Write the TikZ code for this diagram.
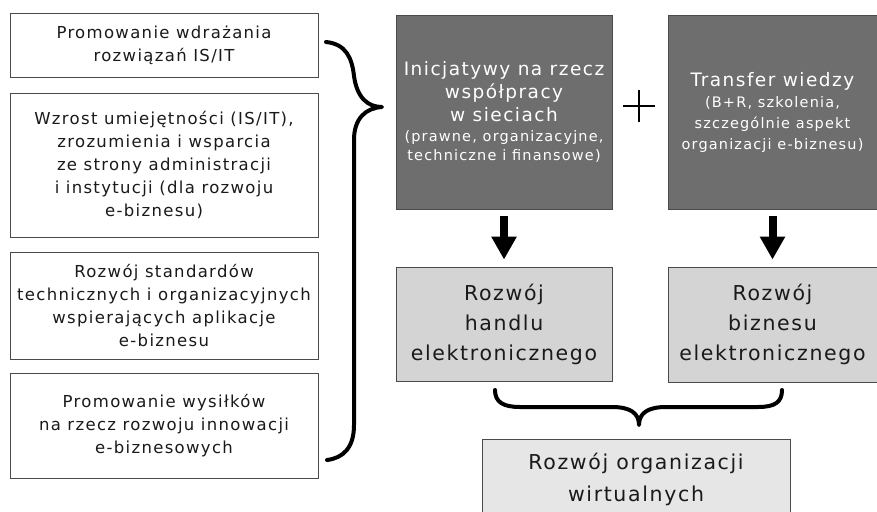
\documentclass[tikz,border=0pt]{standalone}
\usepackage{fontspec}
\setmainfont{DejaVu Sans}[LetterSpace=8]
\usetikzlibrary{arrows.meta}
\definecolor{darkbox}{HTML}{6E6E6E}
\definecolor{lightbox}{HTML}{D4D4D4}
\definecolor{palebox}{HTML}{E6E6E6}
\definecolor{edge}{HTML}{4A4A4A}
\definecolor{ink}{HTML}{1A1A1A}
\newcommand{\bigline}{\fontsize{18.5}{23}\selectfont\spaceskip=0.4em\relax}
\newcommand{\smallline}[1]{\fontsize{14.5}{#1}\selectfont\spaceskip=0.4em\relax}
\begin{document}
\begin{tikzpicture}[x=1pt,y=-1pt,
  leftbox/.style={draw=edge, line width=0.9pt, fill=white, minimum width=308pt,
    align=center, inner sep=0pt, text=ink, font=\fontsize{16.5}{23}\selectfont},
  darkbox/.style={draw=edge, line width=0.9pt, fill=darkbox, minimum height=194pt,
    inner sep=0pt, text=white, align=center},
  lightbox/.style={draw=edge, line width=0.9pt, fill=lightbox, minimum height=114pt,
    inner sep=0pt, text=ink, align=center, font=\fontsize{20.5}{30}\selectfont},
  bigarrow/.style={line width=8pt, -{Triangle[width=24pt,length=23pt]},
    shorten <=7pt, shorten >=7pt},
  brace/.style={line width=4pt, line cap=round, line join=round}
]
\clip (0,0) rectangle (877,511);
\useasboundingbox (0,0) rectangle (877,511);

% left boxes
\node[leftbox, minimum height=64pt] (l1) at (164,45) {Promowanie wdrażania\\rozwiązań IS/IT};
\node[leftbox, minimum height=144pt] (l2) at (164,165) {Wzrost umiejętności (IS/IT),\\zrozumienia i wsparcia\\ze strony administracji\\i instytucji (dla rozwoju\hspace*{2.1em}\\e-biznesu)\hspace*{1.2em}};
\node[leftbox, minimum height=107pt] (l3) at (164,305.5) {Rozwój standardów\\technicznych i organizacyjnych\\wspierających aplikacje\\e-biznesu};
\node[leftbox, minimum height=105pt] (l4) at (164,425.5) {Promowanie wysiłków\\na rzecz rozwoju innowacji\\e-biznesowych};

% big brace
\coordinate (bt) at (326,42);
\coordinate (btip) at (382,107);
\coordinate (bb) at (327,460);
\draw[brace] (bt) .. controls (346,44) and (352,58) .. (354,76)
  .. controls (357,98) and (368,107) .. (btip)
  .. controls (366,108) and (354,118) .. (354,140)
  -- (354,425) .. controls (354,448) and (343,458) .. (bb);

% dark boxes
\node[darkbox, minimum width=216pt, text width=214pt] (d1) at (504,112)
  {{\bigline Inicjatywy na rzecz\\współpracy\\w sieciach\par}%
   {\smallline{19.5}(prawne, organizacyjne,\\techniczne i finansowe)\par}};
\node[darkbox, minimum width=209pt, text width=207pt] (d2) at (772.5,112)
  {{\bigline Transfer wiedzy\par}%
   {\smallline{21}(B+R, szkolenia,\\szczególnie aspekt\\organizacji e-biznesu)\par}};

% plus
\coordinate (pc) at (639,106);
\draw[line width=2pt] ([xshift=-16pt]pc) -- ([xshift=16pt]pc);
\draw[line width=2pt] ([yshift=-16pt]pc) -- ([yshift=16pt]pc);

% light boxes
\node[lightbox, minimum width=216pt] (g1) at (504,324) {Rozwój\\handlu\\elektronicznego};
\node[lightbox, minimum width=209pt, minimum height=115pt] (g2) at (772.5,324.5) {Rozwój\\biznesu\\elektronicznego};

% arrows
\draw[bigarrow] (d1.south) -- (g1.north);
\draw[bigarrow] (d2.south -| g2.north) -- (g2.north);

% bottom box
\node[draw=edge, line width=0.9pt, fill=palebox, minimum width=308pt, minimum height=80pt,
  inner sep=0pt, text=ink, align=center, font=\fontsize{20.5}{32}\selectfont] (b) at (636,479)
  {Rozwój organizacji\\wirtualnych};

% bottom brace
\coordinate (hl) at (495,390);
\coordinate (htip) at (639,425);
\coordinate (hr) at (782,390);
\draw[brace] (hl) .. controls (495,402) and (503,407) .. (520,407)
  -- (612,407) .. controls (630,407) and (639,413) .. (htip)
  .. controls (639,413) and (648,407) .. (666,407)
  -- (758,407) .. controls (775,407) and (782,402) .. (hr);
\end{tikzpicture}
\end{document}
